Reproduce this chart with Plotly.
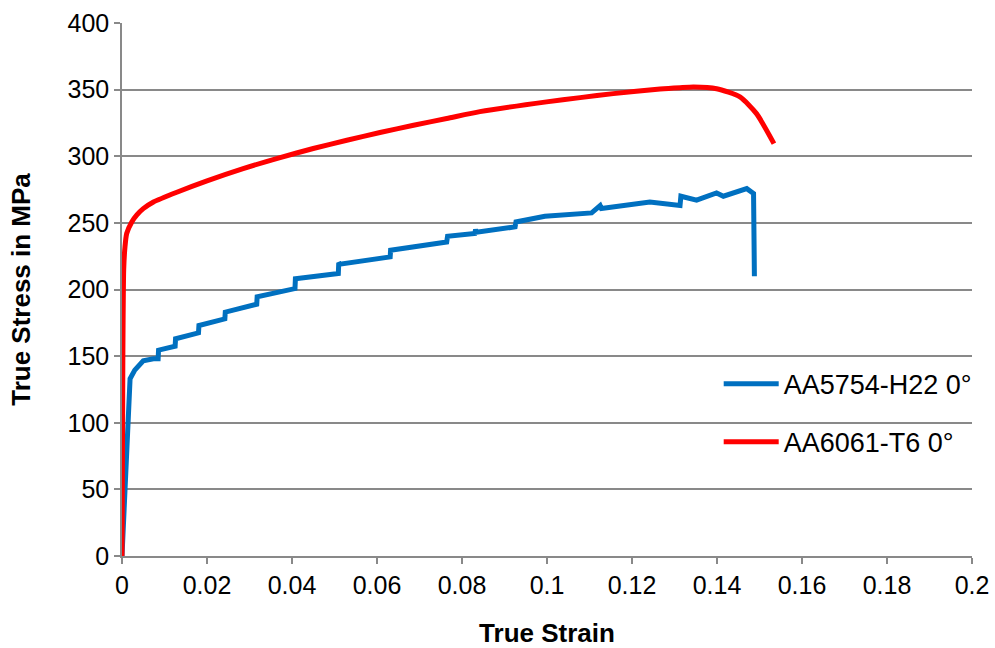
import plotly.graph_objects as go

# AA5754-H22 0° (blue)
blue_strain = [0, 0.0019, 0.003, 0.005, 0.0074, 0.0085, 0.0086, 0.0125, 0.0126,
               0.018, 0.0181, 0.0242, 0.0243, 0.0317, 0.0318, 0.0407, 0.0408,
               0.0509, 0.051, 0.0513, 0.0631, 0.0632, 0.0764, 0.0766, 0.083,
               0.0832, 0.0834, 0.0925, 0.0927, 0.0995, 0.1105, 0.1125, 0.1128,
               0.1242, 0.1313, 0.1315, 0.1352, 0.1399, 0.1415, 0.147, 0.1486, 0.1488]
blue_stress = [0, 133, 139.5, 146.5, 148, 148, 154.5, 157.5, 163,
               167.5, 173, 178, 183, 189, 194.5, 200.7, 208,
               212, 220, 219, 224.5, 229.5, 235.7, 240, 242,
               245, 243, 247, 250.7, 255, 257.5, 263, 260.8,
               265.7, 263, 270, 267, 272.5, 270, 275.7, 272, 210]

# AA6061-T6 0° (red)
red_strain = [0, 0.0002, 0.0004, 0.0007, 0.0011, 0.0023, 0.0035, 0.005, 0.0074,
              0.0129, 0.02, 0.0285, 0.0372, 0.045, 0.0529, 0.0607, 0.0686, 0.0764,
              0.0842, 0.0999, 0.1078, 0.1156, 0.1266, 0.1313, 0.1345, 0.1399,
              0.1454, 0.1493, 0.1534]
red_stress = [0, 150, 215, 232, 242, 250.7, 256, 260.7, 265.7,
              273, 281.5, 290.7, 299, 305.8, 312, 317.8, 323.3, 328.3,
              333.5, 340.8, 344, 347, 350.5, 351.5, 352, 350.7,
              344.5, 332, 309.5]

x_ticks = [0, 0.02, 0.04, 0.06, 0.08, 0.1, 0.12, 0.14, 0.16, 0.18, 0.2]
x_labels = ["0", "0.02", "0.04", "0.06", "0.08", "0.1", "0.12", "0.14", "0.16", "0.18", "0.2"]
y_ticks = [0, 50, 100, 150, 200, 250, 300, 350, 400]

font = "Liberation Sans, Arial, sans-serif"

fig = go.Figure()
fig.add_trace(go.Scatter(x=blue_strain, y=blue_stress, mode="lines",
                         name="AA5754-H22 0°", legendgroup="a",
                         line=dict(color="#0070C0", width=5)))
fig.add_trace(go.Scatter(x=red_strain, y=red_stress, mode="lines",
                         name="AA6061-T6 0°", legendgroup="b",
                         line=dict(color="#FF0000", width=5, shape="spline", smoothing=0.6)))

fig.update_layout(
    width=995, height=648,
    margin=dict(l=122, r=23, t=23, b=92),
    paper_bgcolor="white", plot_bgcolor="white",
    font=dict(family=font, size=25, color="black"),
    legend=dict(x=0.702, y=0.268, xanchor="left", yanchor="middle",
                bgcolor="rgba(0,0,0,0)", font=dict(size=27),
                tracegroupgap=20, traceorder="grouped", itemwidth=55),
    showlegend=True,
)
fig.update_xaxes(range=[0, 0.2], tickvals=x_ticks, ticktext=x_labels,
                 showgrid=False, showline=True, linecolor="#898989", linewidth=1.5,
                 ticks="outside", ticklen=6, tickcolor="#898989", tickwidth=1.5,
                 zeroline=False, automargin=False,
                 title=dict(text="<b>True Strain</b>", font=dict(size=26), standoff=28),
                 tickfont=dict(size=25))
fig.update_yaxes(range=[0, 400], tickvals=y_ticks,
                 showgrid=True, gridcolor="#898989", gridwidth=1.5,
                 showline=True, linecolor="#898989", linewidth=1.5,
                 ticks="outside", ticklen=6, tickcolor="#898989", tickwidth=1.5,
                 zeroline=False, automargin=False,
                 title=dict(text="<b>True Stress in MPa</b>", font=dict(size=26), standoff=29),
                 tickfont=dict(size=25))

fig.write_html("out.html")
